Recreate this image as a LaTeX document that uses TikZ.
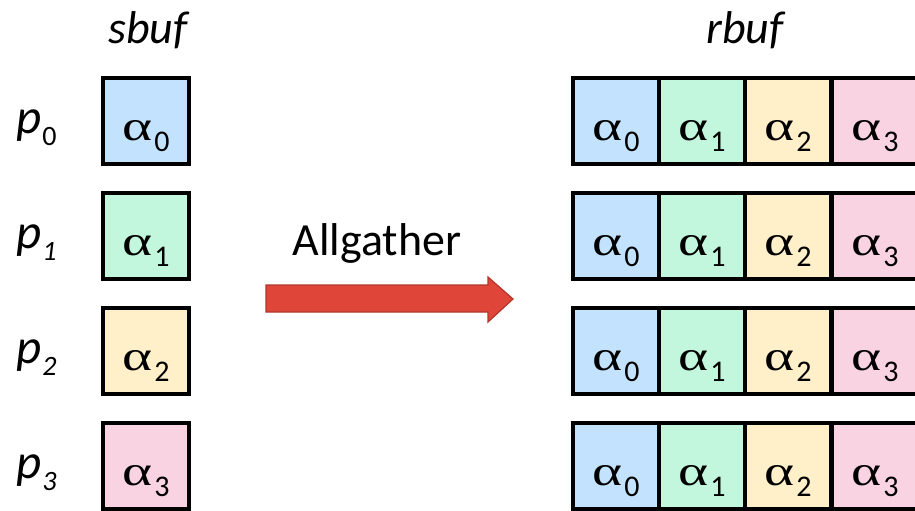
\documentclass[tikz,border=0pt]{standalone}
\usepackage{graphicx}
\usepackage{fontspec}
\setmainfont{Carlito}
\newfontfamily\alf{Liberation Serif}
\definecolor{cblue}{HTML}{C2E2FD}
\definecolor{cgreen}{HTML}{C2F6DD}
\definecolor{cyellow}{HTML}{FFF0CA}
\definecolor{cpink}{HTML}{FAD3E2}
\definecolor{arrowfill}{HTML}{DF4538}
\definecolor{arrowedge}{HTML}{B1352B}
% wide upright alpha with a lowered index
\newcommand{\alsub}[1]{\resizebox{30pt}{20pt}{\alf α}\kern2pt\raisebox{-11pt}{\fontsize{30}{30}\selectfont #1}}
% process name with a lowered index
\newcommand{\pname}[1]{p\kern1pt\raisebox{-12pt}{\fontsize{28}{28}\selectfont #1}}
\tikzset{
  cell/.style={draw=black, line width=3.5pt, minimum width=86pt, minimum height=86pt,
    inner sep=0pt, text height=38pt, text depth=0pt},
  title/.style={font=\fontsize{46}{46}\selectfont\itshape},
  proc/.style={font=\fontsize{49}{49}\selectfont\itshape, anchor=base west, inner sep=0pt},
}
\begin{document}
\begin{tikzpicture}[x=1pt,y=-1pt]
\useasboundingbox (0,0) rectangle (915,511);
% column titles
\node[title] (sbuf) at (148,30) {sbuf};
\node[title] (rbuf) at (745,30) {rbuf};
% process labels
\node[proc] (p0) at (16,133) {\pname{\upshape 0}};
\node[proc] (p1) at (16,248) {\pname{1}};
\node[proc] (p2) at (16,363) {\pname{2}};
\node[proc] (p3) at (16,478) {\pname{3}};
% send buffers
\node[cell, fill=cblue]   (s0) at (146,121) {\alsub{0}};
\node[cell, fill=cgreen]  (s1) at (146,236) {\alsub{1}};
\node[cell, fill=cyellow] (s2) at (146,351) {\alsub{2}};
\node[cell, fill=cpink]   (s3) at (146,466) {\alsub{3}};
% receive buffers
\foreach \r/\y in {0/121,1/236,2/351,3/466}{
  \node[cell, fill=cblue]   (r\r a) at (616,\y) {\alsub{0}};
  \node[cell, fill=cgreen]  (r\r b) at (702,\y) {\alsub{1}};
  \node[cell, fill=cyellow] (r\r c) at (788,\y) {\alsub{2}};
  \node[cell, fill=cpink]   (r\r d) at (875,\y) {\alsub{3}};
}
% operation label and arrow
\node[font=\fontsize{46}{46}\selectfont] (op) at (377,243) {Allgather};
\draw[fill=arrowfill, draw=arrowedge, line width=1.2pt, line join=miter]
  (266,285) -- (488,285) -- (488,277) -- (513,299) -- (488,322) -- (488,312) -- (266,312) -- cycle;
\end{tikzpicture}
\end{document}
